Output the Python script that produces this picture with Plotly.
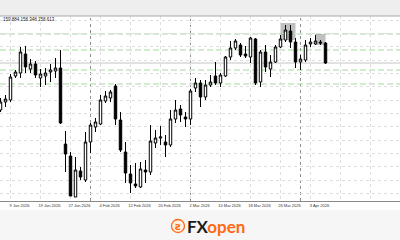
import plotly.graph_objects as go

# ---------------- data ----------------
dates = [
    "2026-01-07", "2026-01-08", "2026-01-09", "2026-01-12", "2026-01-13", "2026-01-14",
    "2026-01-15", "2026-01-16", "2026-01-19", "2026-01-20", "2026-01-21", "2026-01-22",
    "2026-01-23", "2026-01-26", "2026-01-27", "2026-01-28", "2026-01-29", "2026-01-30",
    "2026-02-02", "2026-02-03", "2026-02-04", "2026-02-05", "2026-02-06", "2026-02-09",
    "2026-02-10", "2026-02-11", "2026-02-12", "2026-02-13", "2026-02-16", "2026-02-17",
    "2026-02-18", "2026-02-19", "2026-02-20", "2026-02-23", "2026-02-24", "2026-02-25",
    "2026-02-26", "2026-02-27", "2026-03-02", "2026-03-03", "2026-03-04", "2026-03-05",
    "2026-03-06", "2026-03-09", "2026-03-10", "2026-03-11", "2026-03-12", "2026-03-13",
    "2026-03-16", "2026-03-17", "2026-03-18", "2026-03-19", "2026-03-20", "2026-03-23",
    "2026-03-24", "2026-03-25", "2026-03-26", "2026-03-27", "2026-03-30", "2026-03-31",
    "2026-04-01", "2026-04-02", "2026-04-03", "2026-04-06", "2026-04-07", "2026-04-08",
]
opens = [156.00, 156.40, 156.50, 157.70, 157.85, 158.80, 158.05, 158.30, 157.60, 157.70,
         157.90, 157.95, 158.10, 154.30, 153.70, 151.65, 152.95, 152.50, 154.40, 155.15,
         155.30, 156.45, 156.60, 157.20, 155.50, 153.90, 152.80, 152.30, 152.15, 153.00,
         152.90, 154.35, 154.60, 154.40, 154.25, 155.55, 156.05, 155.65, 155.55, 157.10,
         157.35, 156.65, 157.25, 157.70, 157.35, 157.70, 158.65, 159.10, 159.25, 158.80,
         158.65, 159.55, 157.40, 158.90, 158.05, 158.40, 159.15, 159.50, 159.95, 159.40,
         158.40, 158.50, 159.30, 159.30, 159.40, 159.35]
highs = [156.60, 156.75, 157.80, 158.00, 159.15, 159.20, 158.55, 158.45, 158.05, 158.10,
         158.30, 158.60, 159.00, 154.95, 153.90, 153.65, 153.15, 154.90, 155.35, 155.60,
         156.75, 156.95, 157.00, 157.30, 155.90, 154.40, 153.25, 153.35, 153.40, 153.50,
         155.25, 155.00, 155.20, 154.75, 156.00, 156.50, 156.25, 155.90, 157.05, 157.60,
         157.50, 157.50, 157.75, 158.40, 157.85, 158.70, 159.45, 159.55, 159.35, 159.20,
         159.65, 159.60, 159.00, 159.25, 158.75, 159.25, 159.75, 160.25, 160.25, 159.60,
         158.75, 159.50, 159.60, 159.75, 159.50, 159.40]
lows = [155.90, 156.15, 156.40, 157.60, 157.60, 157.85, 157.85, 157.60, 157.15, 157.25,
        157.40, 157.60, 155.30, 152.90, 151.70, 151.65, 152.50, 152.40, 153.85, 154.90,
        155.25, 156.35, 156.40, 155.25, 153.90, 152.35, 151.85, 152.10, 152.10, 152.35,
        152.75, 154.10, 154.25, 153.65, 154.15, 155.35, 155.40, 155.15, 155.25, 156.90,
        156.15, 156.50, 157.15, 157.25, 157.15, 157.65, 158.50, 159.00, 158.65, 158.60,
        158.35, 157.25, 157.15, 157.90, 157.65, 158.35, 159.10, 159.40, 159.10, 158.10,
        158.00, 158.40, 159.15, 159.25, 159.25, 158.30]
closes = [156.40, 156.55, 157.65, 157.90, 158.90, 158.15, 158.30, 157.75, 157.80, 157.85,
          158.00, 158.10, 155.35, 153.80, 151.70, 153.00, 152.65, 154.40, 155.25, 155.40,
          156.50, 156.70, 156.90, 155.55, 154.00, 152.85, 152.35, 152.20, 153.05, 152.90,
          154.45, 154.60, 154.65, 154.25, 155.55, 156.00, 155.75, 155.55, 156.95, 157.35,
          156.65, 157.25, 157.40, 157.35, 157.75, 158.65, 159.10, 159.45, 158.75, 158.70,
          159.60, 157.35, 158.90, 158.15, 158.40, 159.15, 159.55, 160.00, 159.40, 158.40,
          158.55, 159.25, 159.40, 159.45, 159.35, 158.35]

label_dates = ["2026-01-09", "2026-01-19", "2026-01-27", "2026-02-04", "2026-02-12",
               "2026-02-20", "2026-03-02", "2026-03-10", "2026-03-18", "2026-03-26",
               "2026-04-03"]
label_texts = ["9 Jan 2026", "19 Jan 2026", "27 Jan 2026", "4 Feb 2026", "12 Feb 2026",
               "20 Feb 2026", "2 Mar 2026", "10 Mar 2026", "18 Mar 2026", "26 Mar 2026",
               "3 Apr 2026"]

levels = [159.80, 159.00, 158.00, 157.30]          # green dashed levels
zones = [("2026-03-26", "2026-03-31", 159.50, 160.35),   # grey highlight boxes
         ("2026-04-06", "2026-04-08", 159.25, 159.80)]
header_text = "159.884 158.348 158.613"

# ---------------- figure ----------------
idx = list(range(len(dates)))
pos = {d: i for i, d in enumerate(dates)}

W, H = 400, 240
T, B = 16, 39
plot_h = H - T - B
ymin, ymax = 151.45, 160.70

fig = go.Figure()
fig.add_trace(go.Candlestick(
    x=idx, open=opens, high=highs, low=lows, close=closes,
    increasing=dict(fillcolor="#ffffff", line=dict(color="#000000", width=1)),
    decreasing=dict(fillcolor="#000000", line=dict(color="#000000", width=1)),
    whiskerwidth=0, hoverinfo="skip", showlegend=False,
))

label_step = pos[label_dates[1]] - pos[label_dates[0]]
tickvals = [pos[d] for d in label_dates]
ticktext = list(label_texts)
nxt = tickvals[-1] + label_step
while nxt < 82:
    tickvals.append(nxt)
    ticktext.append("")
    nxt += label_step

shapes = []
# white strip behind the date labels
shapes.append(dict(type="rect", xref="paper", yref="paper", x0=0, x1=1,
                   y0=-9 / plot_h, y1=0, fillcolor="#ffffff", line_width=0, layer="below"))
# top band
shapes.append(dict(type="rect", xref="paper", yref="paper", x0=0, x1=1,
                   y0=1, y1=1 + T / plot_h, fillcolor="#eeeeee", line_width=0, layer="below"))
shapes.append(dict(type="line", xref="paper", yref="paper", x0=0, x1=1,
                   y0=1, y1=1, line=dict(color="#a9a9a9", width=1)))
# month separators
prev_m = dates[0][:7]
for d in dates[1:]:
    if d[:7] != prev_m:
        shapes.append(dict(type="line", xref="x", yref="paper", x0=pos[d], x1=pos[d],
                           y0=0, y1=1, line=dict(color="#8f8f8f", width=1, dash="dot"),
                           layer="below"))
        prev_m = d[:7]
# highlight zones
for d0, d1, lo, hi in zones:
    shapes.append(dict(type="rect", xref="x", yref="y", x0=pos[d0], x1=pos[d1],
                       y0=lo, y1=hi, fillcolor="rgba(140,140,140,0.55)", line_width=0,
                       layer="below"))
# levels
for lv in levels:
    shapes.append(dict(type="line", xref="paper", yref="y", x0=0, x1=1, y0=lv, y1=lv,
                       line=dict(color="#a6d9a0", width=1, dash="6px,3px"), layer="below"))
# current price line
shapes.append(dict(type="line", xref="paper", yref="y", x0=0, x1=1,
                   y0=closes[-1], y1=closes[-1],
                   line=dict(color="#c4c4c4", width=1), layer="below"))
# logo icon
base = H - B
r = 6.5
shapes.append(dict(type="circle", xref="paper", yref="paper",
                   x0=(178 - r) / W, x1=(178 + r) / W,
                   y0=-(226 + r - base) / plot_h, y1=-(226 - r - base) / plot_h,
                   fillcolor="#fff1e6", line=dict(color="#ff6a13", width=1.3)))

annotations = [
    dict(text=header_text, xref="paper", yref="paper", x=1 / W, y=1 - 3 / plot_h,
         xanchor="left", yanchor="middle", showarrow=False,
         font=dict(size=4.5, color="#222222", family="Liberation Sans")),
    dict(text="<b>ƨ</b>", xref="paper", yref="paper", x=178 / W,
         y=-(226 - base) / plot_h, xanchor="center", yanchor="middle",
         showarrow=False, font=dict(size=10, color="#ff6a13", family="DejaVu Sans")),
    dict(text="<b><span style='color:#1d1d1d'>FX</span><span style='color:#ff6a13'>open</span></b>",
         xref="paper", yref="paper", x=185 / W, y=-(226 - base) / plot_h,
         xanchor="left", yanchor="middle", showarrow=False,
         font=dict(size=17, family="Lato")),
]

fig.update_layout(
    width=W, height=H,
    margin=dict(l=0, r=0, t=T, b=B, pad=0),
    paper_bgcolor="#f6f6f6", plot_bgcolor="#ffffff",
    shapes=shapes, annotations=annotations,
    xaxis=dict(range=[-0.1, 79.9], rangeslider=dict(visible=False),
               tickmode="array", tickvals=tickvals, ticktext=ticktext,
               ticklabelshift=9, ticklen=0,
               tickfont=dict(size=4, color="#333333", family="Liberation Sans"),
               showgrid=True, gridcolor="#dedede", griddash="dot", gridwidth=1,
               showline=True, linecolor="#8a8a8a", linewidth=1, zeroline=False),
    yaxis=dict(range=[ymin, ymax], showticklabels=False, ticks="",
               tick0=156.5, dtick=2 / 3,
               showgrid=True, gridcolor="#dedede", griddash="dot", gridwidth=1,
               zeroline=False, showline=False),
    showlegend=False,
)

fig.write_html("out.html")
